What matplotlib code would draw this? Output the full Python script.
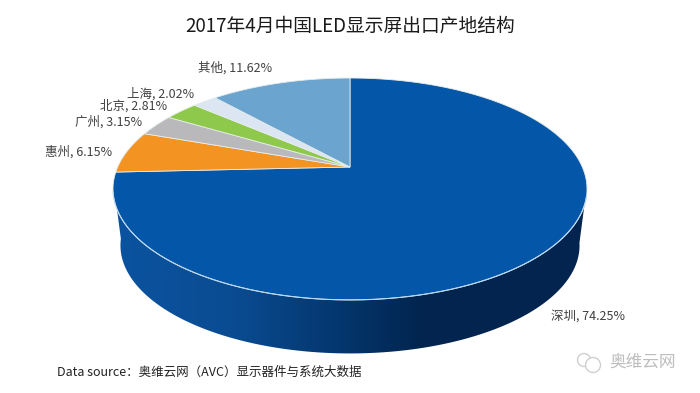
#!/usr/bin/env python3
"""
Pseudo-3D pie of LED display exports by origin, April 2017
"""

import numpy as np
import matplotlib
matplotlib.use("Agg")
import matplotlib.pyplot as plt
from matplotlib.colors import LinearSegmentedColormap
from matplotlib.patches import Circle, Polygon

plt.rcParams['font.family'] = ['Noto Sans CJK SC', 'DejaVu Sans']

TITLE = "2017年4月中国LED显示屏出口产地结构"
SOURCE = "Data source：奥维云网（AVC）显示器件与系统大数据"
WATERMARK = "奥维云网"

# clockwise from 12 o'clock
cities = ["深圳", "惠州", "广州", "北京", "上海", "其他"]
shares = [74.25, 6.15, 3.15, 2.81, 2.02, 11.62]
colors = ["#0457a8", "#f39322", "#b9b9bb", "#8ec94c", "#dbe6f2", "#6ba5cf"]

# label anchor per city, in pixels of the 700x393 picture
label_pos = [(551, 316), (45, 152), (75, 122), (100, 106), (127, 94), (198, 68)]

# projection of the pie disc: tilt factor, half axes, apex height
TILT = 0.198
TOP = dict(a=232.3, b=106.6, cx=350, cy=167)
BOTTOM = dict(a=225.0, b=103.8, cx=350, cy=224)


def rim(theta, a, b, cx, cy):
    """Map clockwise-from-top angles on the disc to picture pixels"""
    u, v = np.sin(theta), np.cos(theta)
    w = 1 + TILT * v
    return np.column_stack([cx + a * u / w, cy - b * v / w])


fig = plt.figure(figsize=(7, 3.93), dpi=100)
ax = fig.add_axes([0, 0, 1, 1])
ax.set_xlim(0, 700)
ax.set_ylim(393, 0)
ax.axis('off')

# side wall, a horizontal gradient clipped to the band under the disc
front = np.linspace(np.radians(100), np.radians(262), 200)
wall_pts = np.vstack([rim(front, **TOP), rim(front[::-1], **BOTTOM)])
wall = Polygon(wall_pts, closed=True, fc='none', ec='none')
ax.add_patch(wall)
wall_cmap = LinearSegmentedColormap.from_list("wall", [
    (0.0, "#0a53a0"), (0.25, "#0a4c92"), (0.47, "#04376f"),
    (0.65, "#02254f"), (1.0, "#03244e")])
img = ax.imshow(np.linspace(0, 1, 256)[None, :], cmap=wall_cmap, aspect='auto',
                extent=(113, 587, 393, 0), zorder=1)
img.set_clip_path(wall)
ax.set_xlim(0, 700)
ax.set_ylim(393, 0)

# top of the pie, wedges follow the shares
edges = np.radians(np.cumsum([0] + shares) / sum(shares) * 360)
for i, color in enumerate(colors):
    arc = np.linspace(edges[i], edges[i + 1], 300)
    pts = np.vstack([[[TOP['cx'], TOP['cy']]], rim(arc, **TOP)])
    ax.add_patch(Polygon(pts, closed=True, fc=color, ec='#e6ecec', lw=0.6, zorder=2))

# light line along the front rim
line = rim(np.linspace(np.radians(105), np.radians(257), 200), **TOP)
ax.plot(line[:, 0], line[:, 1], color='#b9d8f0', lw=0.8, zorder=3)

ax.text(350, 26, TITLE, ha='center', va='center', fontsize=13.5, color='#1a1a1a')

for city, share, (x, y) in zip(cities, shares, label_pos):
    ax.text(x, y, f"{city}, {share:.2f}%", ha='left', va='center',
            fontsize=9, color='#404040')

ax.text(57, 372, SOURCE, ha='left', va='center', fontsize=9, color='#222222')

# watermark with a rough chat icon
ax.text(609, 363, WATERMARK, ha='left', va='center', fontsize=12, color='#bdbdbd')
ax.add_patch(Circle((584, 360), 6.5, fc='none', ec='#cfcfcf', lw=1.0, zorder=4))
ax.add_patch(Circle((593, 365), 7.5, fc='white', ec='#cfcfcf', lw=1.0, zorder=5))

fig.savefig("out.png", dpi=100)
